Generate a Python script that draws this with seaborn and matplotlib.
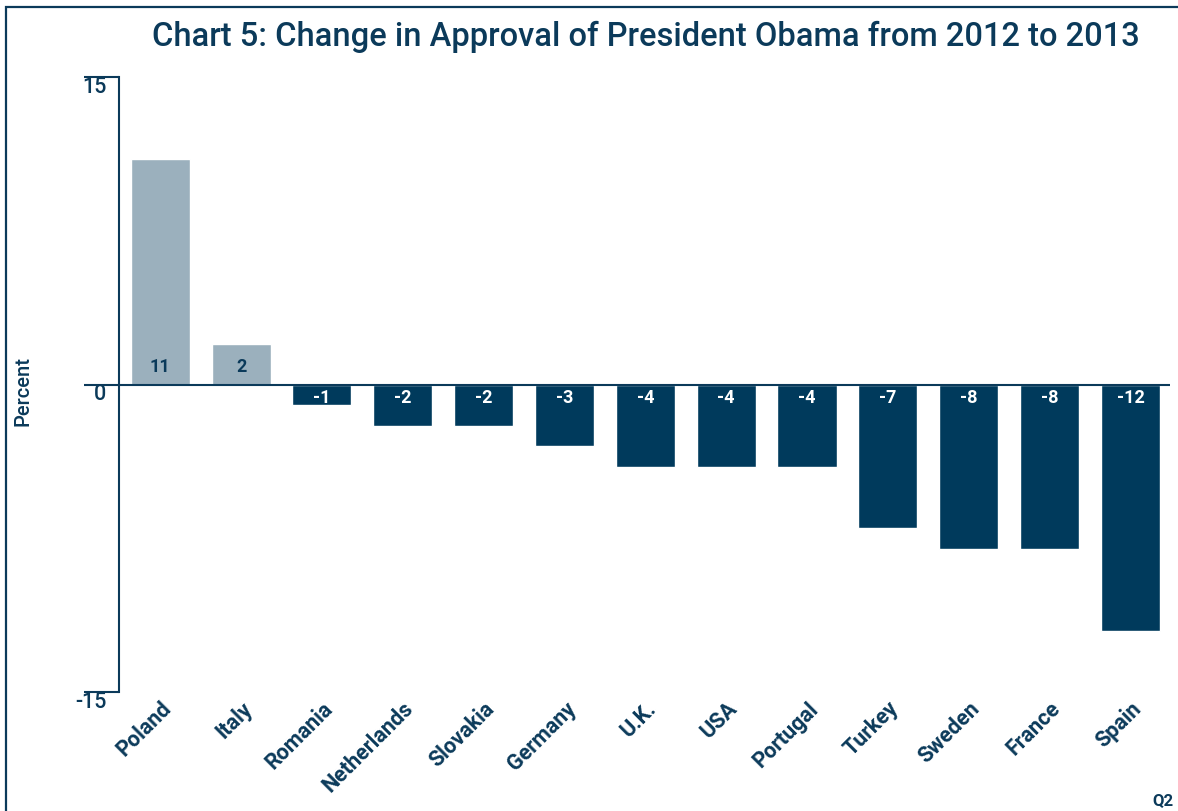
import matplotlib
matplotlib.use("Agg")
import matplotlib.pyplot as plt
import matplotlib.patches as mpatches
import seaborn as sns
import pandas as pd

countries = ["Poland", "Italy", "Romania", "Netherlands", "Slovakia", "Germany",
             "U.K.", "USA", "Portugal", "Turkey", "Sweden", "France", "Spain"]
changes = [11, 2, -1, -2, -2, -3, -4, -4, -4, -7, -8, -8, -12]
yticks = [-15, 0, 15]

NAVY = "#003a5c"
LIGHT = "#9bb0bd"
TXT = "#0b3a5a"

sns.set_theme(style="white")
plt.rcParams['font.family'] = ['Roboto', 'DejaVu Sans']

df = pd.DataFrame({"country": countries, "change": changes})
df["sign"] = ["pos" if v > 0 else "neg" for v in changes]

fig = plt.figure(figsize=(11.78, 8.11), dpi=100)
ax = fig.add_axes([119/1178, 1-692/811, (1170-119)/1178, (692-77)/811])

sns.barplot(data=df, x="country", y="change", hue="sign",
            palette={"pos": LIGHT, "neg": NAVY}, dodge=False, width=0.73,
            legend=False, ax=ax, saturation=1)

ax.set_ylim(-15, 15)
ax.set_xlim(-0.51, 12.49)
ax.set_yticks(yticks)
ax.set_yticklabels([str(v) for v in yticks], fontsize=15.5, fontweight="medium", color=TXT)
for lab in ax.get_yticklabels():
    lab.set_va("top")
ax.tick_params(axis="y", direction="out", length=25, width=1.5, color=TXT, pad=-16, left=True)
ax.tick_params(axis="x", length=0, pad=4)

for sp in ["top", "right", "bottom"]:
    ax.spines[sp].set_visible(False)
ax.spines["left"].set_color(TXT)
ax.spines["left"].set_linewidth(1.5)
ax.axhline(0, color=TXT, lw=1.5, zorder=3)

ax.set_xlabel("")
ax.set_ylabel("Percent", fontsize=14.5, color=TXT, fontweight="medium")
ax.yaxis.set_label_coords(-0.082, 0.49)

ax.set_xticks(range(len(countries)))
ax.set_xticklabels(countries, rotation=45, ha="right", rotation_mode="anchor",
                   fontsize=15.5, fontweight="bold", color=TXT)

for i, v in enumerate(changes):
    if v > 0:
        ax.text(i, 0.4, str(v), ha="center", va="bottom", fontsize=13,
                fontweight="bold", color=TXT)
    else:
        ax.text(i, -0.2, str(v), ha="center", va="top", fontsize=13,
                fontweight="bold", color="white")

fig.text(646/1178, 1-37/811, "Chart 5: Change in Approval of President Obama from 2012 to 2013",
         ha="center", va="center", fontsize=23.5, fontweight="medium", color=TXT)
fig.text(1163/1178, 1-801/811, "Q2", ha="center", va="center", fontsize=12,
         fontweight="bold", color=TXT)

top = 1 - 7/811
rect = mpatches.Rectangle((6/1178, -0.2), 1.2, top + 0.2, transform=fig.transFigure,
                          fill=False, edgecolor=TXT, lw=1.6, clip_on=False)
fig.patches.append(rect)

fig.savefig("out.png", dpi=100)
